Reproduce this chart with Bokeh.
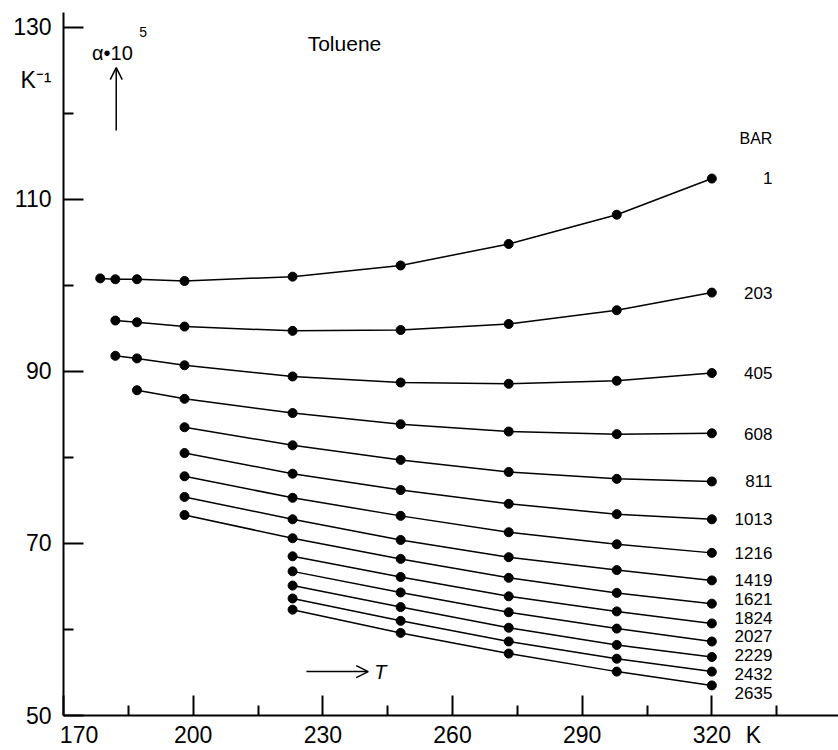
from bokeh.plotting import figure
from bokeh.models import FixedTicker, Label, Arrow, OpenHead, Range1d, LinearAxis
from bokeh.embed import file_html
from bokeh.resources import INLINE

# ---- data ----
T = [178.5, 182, 187, 198, 223, 248, 273, 298, 320]   # K

pressures = ["1", "203", "405", "608", "811", "1013", "1216",
             "1419", "1621", "1824", "2027", "2229", "2432", "2635"]

a_1    = [100.8, 100.7, 100.7, 100.5, 101.0, 102.3, 104.8, 108.2, 112.4]
a_203  = [95.9, 95.7, 95.2, 94.7, 94.8, 95.5, 97.1, 99.15]
a_405  = [91.8, 91.5, 90.7, 89.4, 88.7, 88.55, 88.9, 89.8]
a_608  = [87.8, 86.8, 85.15, 83.85, 83.0, 82.7, 82.8]
a_811  = [83.5, 81.4, 79.7, 78.3, 77.5, 77.2]
a_1013 = [80.5, 78.1, 76.2, 74.6, 73.4, 72.8]
a_1216 = [77.8, 75.3, 73.2, 71.3, 69.9, 68.9]
a_1419 = [75.4, 72.8, 70.4, 68.4, 66.9, 65.7]
a_1621 = [73.3, 70.6, 68.2, 66.0, 64.25, 63.0]
a_1824 = [68.5, 66.1, 63.85, 62.1, 60.7]
a_2027 = [66.75, 64.3, 62.0, 60.1, 58.6]
a_2229 = [65.1, 62.6, 60.2, 58.2, 56.8]
a_2432 = [63.6, 61.0, 58.6, 56.6, 55.1]
a_2635 = [62.3, 59.6, 57.2, 55.1, 53.5]

series = [a_1, a_203, a_405, a_608, a_811, a_1013, a_1216,
          a_1419, a_1621, a_1824, a_2027, a_2229, a_2432, a_2635]

x_ticks = [170, 200, 230, 260, 290, 320]
x_minor = [185, 215, 245, 275, 305, 335]
x_labels = ["170", "200", "230", "260", "290", "320"]
y_ticks = [50, 70, 90, 110, 130]
y_minor = [60, 80, 100, 120]
y_labels = ["50", "70", "90", "110", "130"]
x_unit, y_unit = "K", "K\u207b\u00b9"

# layout-only positions of texts
x_label_pos = [173.6, 200, 230, 260, 290, 320]
x_unit_pos = 329.6
y_unit_pos = 123.8
label_x = 334
label_y = [112.5, 99.1, 89.8, 82.7, 77.3, 72.8, 68.9,
           65.8, 63.5, 61.3, 59.2, 57.0, 54.8, 52.6]

FONT = "Liberation Sans"

p = figure(width=838, height=750, output_backend="svg", toolbar_location=None,
           x_range=Range1d(170, 349.3), y_range=Range1d(50, 131.7),
           x_axis_location=None, y_axis_location=None,
           min_border_left=63, min_border_right=0, min_border_top=12,
           min_border_bottom=34)
p.outline_line_color = None
p.xgrid.visible = False
p.ygrid.visible = False
p.background_fill_color = "white"
p.border_fill_color = "white"


def tick_axis(ticks, minor):
    ax = LinearAxis(ticker=FixedTicker(ticks=ticks, minor_ticks=minor))
    ax.axis_line_width = 2
    ax.major_tick_line_width = 2
    ax.minor_tick_line_width = 2
    ax.major_tick_in = 20
    ax.major_tick_out = 0
    ax.minor_tick_in = 10
    ax.minor_tick_out = 0
    ax.axis_line_color = "black"
    ax.major_tick_line_color = "black"
    ax.minor_tick_line_color = "black"
    ax.major_label_overrides = {t: "" for t in ticks}
    ax.major_label_text_font_size = "0px"
    ax.major_label_standoff = 0
    return ax


def label_axis(pos, labels, standoff):
    ax = LinearAxis(ticker=FixedTicker(ticks=pos, minor_ticks=[]))
    ax.axis_line_color = None
    ax.major_tick_line_color = None
    ax.minor_tick_line_color = None
    ax.major_tick_in = 0
    ax.major_tick_out = 0
    ax.major_label_overrides = {t: s for t, s in zip(pos, labels)}
    ax.major_label_text_font = FONT
    ax.major_label_text_font_size = "23px"
    ax.major_label_text_color = "black"
    ax.major_label_standoff = standoff
    return ax


p.add_layout(tick_axis(x_ticks, x_minor), "below")
p.add_layout(label_axis(x_label_pos + [x_unit_pos], x_labels + [x_unit], 6), "below")
p.add_layout(tick_axis(y_ticks, y_minor), "left")
p.add_layout(label_axis(y_ticks + [y_unit_pos], y_labels + [y_unit], 12), "left")

for vals in series:
    xs = T[len(T) - len(vals):]
    p.line(xs, vals, line_color="black", line_width=1.5)
    p.scatter(xs, vals, size=9, fill_color="black", line_color="black")

for txt, ly in zip(pressures, label_y):
    p.add_layout(Label(x=label_x, y=ly, text=txt, text_font=FONT,
                       text_font_size="17px", text_align="right",
                       text_baseline="middle", text_color="black"))

p.add_layout(Label(x=334, y=117.1, text="BAR", text_font=FONT,
                   text_font_size="16px", text_align="right",
                   text_baseline="middle", text_color="black"))

p.add_layout(Label(x=235, y=128.1, text="Toluene", text_font=FONT,
                   text_font_size="21px", text_align="center",
                   text_baseline="middle", text_color="black"))

# y quantity label
p.add_layout(Label(x=176.6, y=127.0, text="α•10", text_font=FONT,
                   text_font_size="20px", text_align="left",
                   text_baseline="middle", text_color="black"))
p.add_layout(Label(x=187.5, y=129.4, text="5", text_font=FONT,
                   text_font_size="14px", text_align="left",
                   text_baseline="middle", text_color="black"))
p.add_layout(Arrow(end=OpenHead(size=12, line_width=1.5), x_start=182.2, y_start=118.0,
                   x_end=182.2, y_end=125.3, line_width=1.5))

# x quantity label
p.add_layout(Arrow(end=OpenHead(size=12, line_width=1.5), x_start=226.2, y_start=55.1,
                   x_end=240.5, y_end=55.1, line_width=1.5))
p.add_layout(Label(x=243.3, y=55.1, text="T", text_font=FONT,
                   text_font_size="20px", text_align="center",
                   text_baseline="middle", text_font_style="italic",
                   text_color="black"))

open("out.html", "w").write(file_html(p, INLINE))
